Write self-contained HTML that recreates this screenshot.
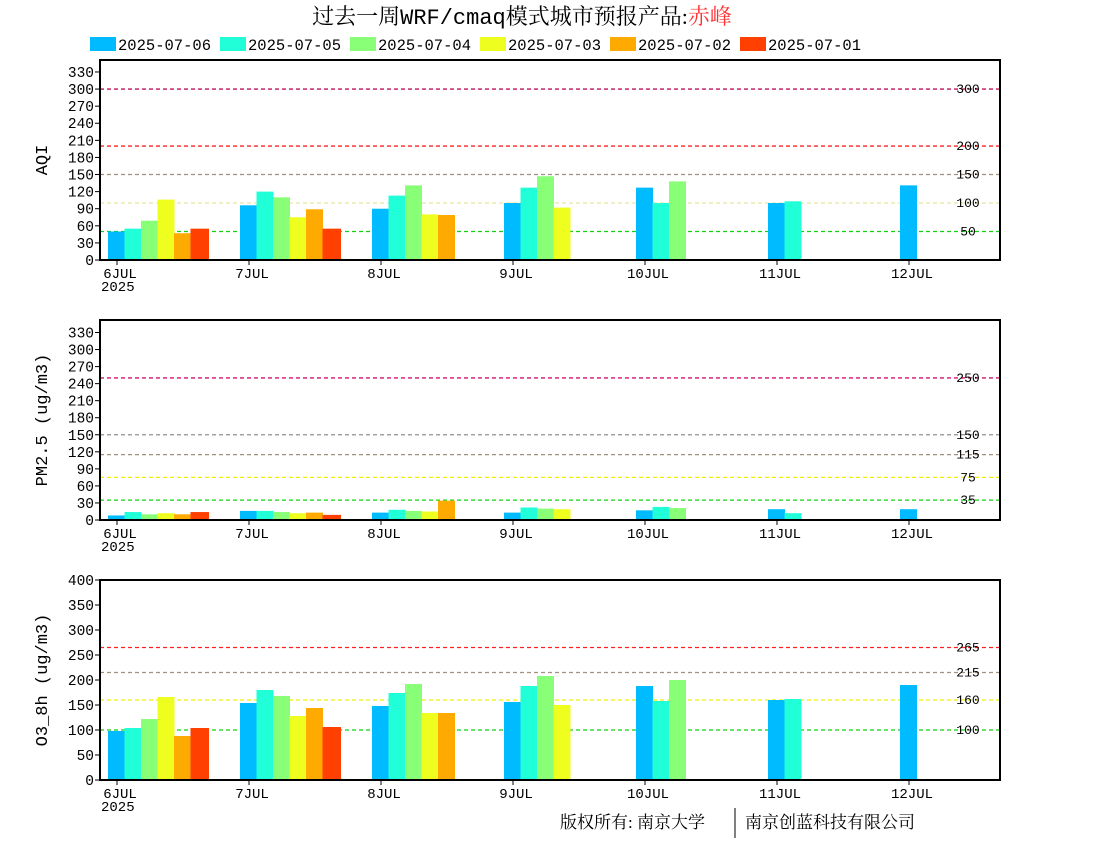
<!DOCTYPE html>
<html><head><meta charset="utf-8"><style>
body{margin:0;background:#fff;width:1100px;height:850px;overflow:hidden}
svg text{font-family:"Liberation Serif","Noto Serif CJK SC","Noto Sans CJK SC",serif}
svg text.m{font-family:"Liberation Mono","Noto Sans CJK SC",monospace}
</style></head><body>
<svg id="c" width="1100" height="850" xmlns="http://www.w3.org/2000/svg">
<text x="522" y="24" font-size="22" text-anchor="middle">过去一周<tspan class="m" style="font-family:'Liberation Mono',monospace">WRF/cmaq</tspan>模式城市预报产品:<tspan fill="#ff3030">赤峰</tspan></text>
<g id="legend"></g>
<text x="560" y="828" font-size="17">版权所有: 南京大学</text>
<line x1="735" y1="808" x2="735" y2="838" stroke="#000"/>
<text x="745" y="828" font-size="17">南京创蓝科技有限公司</text>
</svg>
<script>
const seriesNames=["2025-07-06","2025-07-05","2025-07-04","2025-07-03","2025-07-02","2025-07-01"];
const seriesColors=["#00bbff","#20ffd8","#88ff77","#eeff20","#ffaa00","#ff4000"];
const days=["6JUL","7JUL","8JUL","9JUL","10JUL","11JUL","12JUL"];
const aqiVals=[[50,55,69,106,47,55],[96,120,110,75,89,55],[90,113,131,80,79],[100,127,147,92],[127,100,138],[100,103],[131]];
const pmVals=[[8,14,10,12,10,14],[16,16,14,12,13,9],[13,18,16,15,34],[13,22,20,19],[17,23,21],[19,12],[19]];
const o3Vals=[[98,104,122,166,88,104],[154,180,168,128,144,106],[148,174,192,134,134],[156,188,208,150],[188,158,200],[160,162],[190]];
const aqiTicks=[0,30,60,90,120,150,180,210,240,270,300,330];
const pmTicks=[0,30,60,90,120,150,180,210,240,270,300,330];
const o3Ticks=[0,50,100,150,200,250,300,350,400];
const aqiLines=[[300,"#c0105a"],[200,"#ff2020"],[150,"#a09080"],[100,"#e8e8a0"],[50,"#10d010"]];
const pmLines=[[250,"#d01070"],[150,"#909090"],[115,"#a09080"],[75,"#f0f000"],[35,"#10d010"]];
const o3Lines=[[265,"#ff2020"],[215,"#a09080"],[160,"#f0f000"],[100,"#10d010"]];
const NS="http://www.w3.org/2000/svg";
const svg=document.getElementById('c');
function mk(t,a,p){const e=document.createElementNS(NS,t);for(const k in a)e.setAttribute(k,a[k]);(p||svg).appendChild(e);return e;}
const lg=document.getElementById('legend');
seriesNames.forEach((n,i)=>{
 const r=mk('rect',{x:90+i*130,y:37,width:26,height:14,fill:seriesColors[i]},lg);
 
 
 const t=mk('text',{x:118+i*130,y:50,'font-size':15.5,class:'m'},lg);t.textContent=n;
 
 
});
const L=100,R=1000,dayX0=117,daySp=132,barW=16.5;
function panel(name,top,bottom,ymax,ticks,lines,vals,ylabel){
 const g=mk('g',{});
 
 
 const y=v=>bottom-(v/ymax)*(bottom-top);
 lines.forEach(([v,c])=>{
  const l=mk('line',{x1:L,x2:R,y1:y(v),y2:y(v),stroke:c,'stroke-dasharray':'4,3','stroke-width':1.3},g);
  
  
  const t=mk('text',{x:968,y:y(v)+4,'font-size':13,'text-anchor':'middle',class:'m'},g);t.textContent=v;
  
  
 });
 vals.forEach((arr,d)=>{arr.forEach((v,i)=>{
  const x=dayX0+d*daySp-9+i*barW;
  const b=mk('rect',{x:x,y:y(v),width:(i==5?barW+2:barW+0.5),height:bottom-y(v),fill:seriesColors[i]},g);
  
  
 });});
 const f=mk('rect',{x:L,y:top,width:R-L,height:bottom-top,fill:'none',stroke:'#000','stroke-width':2},g);
 
 
 ticks.forEach(v=>{
  mk('line',{x1:L-5,x2:L,y1:y(v),y2:y(v),stroke:'#000'},g);
  const t=mk('text',{x:L-6,y:y(v)+5,'font-size':14.5,'text-anchor':'end',class:'m'},g);t.textContent=v;
  
  
 });
 days.forEach((dn,d)=>{
  const x=dayX0+d*daySp;
  mk('line',{x1:x,x2:x,y1:bottom,y2:bottom+5,stroke:'#000'},g);
  const t=mk('text',{x:x+3,y:bottom+18,'font-size':14,'text-anchor':'middle',class:'m'},g);t.textContent=dn;
  
  
 });
 const yr=mk('text',{x:101,y:bottom+31,'font-size':14,class:'m'},g);yr.textContent='2025';
 
 
 const yl=mk('text',{x:0,y:0,'font-size':17,'text-anchor':'middle',class:'m',transform:`translate(47,${(top+bottom)/2}) rotate(-90)`},g);yl.textContent=ylabel;
 
 
}
panel('aqi',60,260,351,aqiTicks,aqiLines,aqiVals,'AQI');
panel('pm25',320,520,352,pmTicks,pmLines,pmVals,'PM2.5 (ug/m3)');
panel('o3',580,780,400,o3Ticks,o3Lines,o3Vals,'O3_8h (ug/m3)');
</script>
</body></html>
